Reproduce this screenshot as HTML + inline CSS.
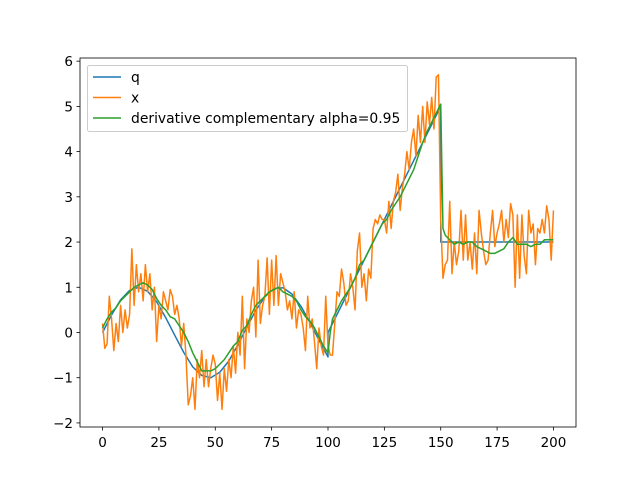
<!DOCTYPE html>
<html><head><meta charset="utf-8"><style>
body{margin:0;background:#fff}
svg{font-family:"DejaVu Sans","Liberation Sans",sans-serif}
</style></head><body>
<svg id="chart" width="640" height="480">
<rect width="640" height="480" fill="#fff"/>
<g id="plot"></g>
</svg>
<script>
const qT=[0,4,8,12,16,20,24,28,32,36,40,44,48,52,56,60,64,68,72,76,80,84,88,92,96,100,100.01,150,150.01,200];
const qV=[0,0.39,0.72,0.93,1.0,0.91,0.68,0.33,-0.06,-0.44,-0.76,-0.95,-1.0,-0.88,-0.63,-0.28,0.12,0.49,0.79,0.97,0.99,0.85,0.58,0.22,-0.17,-0.54,0,5,2,2];
const xV=[0.2,-0.35,-0.25,0.8,0.3,-0.4,0.2,-0.2,0.6,0.0,
0.5,0.1,0.4,1.85,0.6,1.5,0.9,1.3,0.7,1.5,
0.9,1.3,0.5,1.0,-0.2,0.6,0.3,0.9,0.7,0.5,
0.95,0.8,0.4,0.6,0.3,-0.3,0.2,-0.5,-1.6,-1.4,
-1.0,-1.7,-0.6,-1.0,-0.4,-1.2,-0.6,-1.2,-0.8,-0.5,
-0.7,-1.5,-0.9,-1.7,-0.8,-1.3,-0.6,-1.0,-0.3,-0.9,
0.0,-0.5,0.8,-0.8,0.3,0.0,0.7,1.0,-0.1,1.6,
0.2,0.6,0.8,1.65,0.4,1.6,0.6,1.7,0.6,1.3,
1.1,0.9,0.5,0.7,0.3,0.9,0.1,0.5,0.4,0.1,
-0.4,0.8,0.1,0.3,-0.2,-0.8,0.1,-0.3,-0.5,0.8,
-0.3,-0.5,-0.5,0.2,0.9,0.8,1.4,1.1,0.6,0.7,
1.3,1.0,0.5,1.8,2.2,1.0,1.3,0.7,1.4,1.2,
2.3,2.5,2.4,2.6,2.5,2.5,2.2,2.9,2.3,2.9,
3.1,3.5,2.7,3.2,3.5,4.0,3.6,4.2,4.5,3.9,
4.8,4.2,5.0,4.2,5.1,4.6,5.2,4.5,5.65,5.7,
2.5,1.2,1.5,1.6,2.9,1.3,2.0,1.5,1.8,2.7,
1.6,2.6,1.6,2.0,1.4,2.2,1.3,2.7,2.2,1.8,
1.5,1.6,2.2,2.7,1.9,2.2,2.4,2.7,2.0,2.5,
2.1,2.85,2.6,1.0,2.6,1.2,2.6,1.7,1.3,2.7,
2.2,2.4,1.5,2.3,2.2,2.5,2.2,2.8,2.5,1.6,2.7];
const gT=[0,2,4,6,8,10,12,14,16,18,20,22,24,26,28,30,32,34,36,38,40,42,44,46,48,50,52,54,56,58,60,62,64,66,68,70,72,74,76,78,80,82,84,86,88,90,92,94,96,98,100,101,102,104,106,108,110,112,114,116,118,120,122,124,126,128,130,132,134,136,138,140,142,144,146,148,150,151,152,154,156,158,160,162,164,166,168,170,172,174,176,178,180,182,184,186,188,190,192,194,196,198,200];
const gV=[0.1,0.3,0.45,0.55,0.7,0.8,0.9,1.0,1.05,1.1,1.05,0.95,0.75,0.6,0.5,0.35,0.3,0.15,0.0,-0.2,-0.45,-0.65,-0.85,-0.85,-0.85,-0.8,-0.7,-0.6,-0.45,-0.3,-0.2,0.05,0.15,0.4,0.6,0.7,0.8,0.9,0.95,1.0,0.9,0.85,0.8,0.7,0.5,0.35,0.25,0.1,-0.1,-0.3,-0.45,0.0,0.3,0.5,0.7,0.85,1.0,1.2,1.5,1.6,1.8,2.0,2.2,2.4,2.5,2.7,2.85,3.0,3.2,3.4,3.6,3.9,4.2,4.45,4.65,4.85,5.05,2.3,2.15,2.05,1.95,2.0,1.95,2.0,2.0,1.9,1.85,1.8,1.75,1.75,1.8,1.85,2.0,2.1,1.95,1.95,1.95,1.9,1.95,1.95,2.05,2.05,2.05];
const xTicks=[0,25,50,75,100,125,150,175,200];
const yTicks=[-2,-1,0,1,2,3,4,5,6];
const L=80,R=576,T=58,B=427,x0=-10,x1=210,y0=-2.09,y1=6.07;
const sx=v=>L+(v-x0)/(x1-x0)*(R-L), sy=v=>B-(v-y0)/(y1-y0)*(B-T);
const NS='http://www.w3.org/2000/svg', g=document.getElementById('plot');
function mk(tag,a,p){const e=document.createElementNS(NS,tag);for(const k in a)e.setAttribute(k,a[k]);(p||g).appendChild(e);return e;}
function line(ts,vs,color,name){
  const d=ts.map((t,i)=>(i?'L':'M')+sx(t).toFixed(2)+' '+sy(vs[i]).toFixed(2)).join('');
  const p=mk('path',{d:d,fill:'none',stroke:color,'stroke-width':1.5,'stroke-linejoin':'round'});
  
  
}
line(qT,qV,'#1f77b4','series-q');
line(xV.map((v,i)=>i),xV,'#ff7f0e','series-x');
line(gT,gV,'#2ca02c','series-derivative-complementary');
const fr=mk('rect',{x:L,y:T,width:R-L,height:B-T,fill:'none',stroke:'#000','stroke-width':0.8});


const fmt=t=>t<0?'\u2212'+(-t):String(t);
xTicks.forEach(t=>{
  const tk=mk('line',{x1:sx(t),x2:sx(t),y1:B,y2:B+3.5,stroke:'#000','stroke-width':0.8});
  
  
  const tx=mk('text',{x:sx(t),y:B+20,'text-anchor':'middle','font-size':13.5,fill:'#000'});
  tx.textContent=fmt(t);
  
  
});
yTicks.forEach(t=>{
  const tk=mk('line',{x1:L-3.5,x2:L,y1:sy(t),y2:sy(t),stroke:'#000','stroke-width':0.8});
  
  
  const tx=mk('text',{x:L-7,y:sy(t)+5,'text-anchor':'end','font-size':13.5,fill:'#000'});
  tx.textContent=fmt(t);
  
  
});
const lg=mk('g',{});


mk('rect',{x:87.5,y:65.5,width:320,height:66,rx:2,fill:'#fff','fill-opacity':0.8,stroke:'#ccc'},lg);
[['q','#1f77b4'],['x','#ff7f0e'],['derivative complementary alpha=0.95','#2ca02c']].forEach((e,i)=>{
  const y=77+i*20.5;
  const it=mk('g',{},lg);
  
  
  mk('line',{x1:93,x2:121,y1:y,y2:y,stroke:e[1],'stroke-width':1.5},it);
  const tx=mk('text',{x:131,y:y+5,'font-size':13.9,fill:'#000'},it);
  tx.textContent=e[0];
});
</script>
</body></html>
